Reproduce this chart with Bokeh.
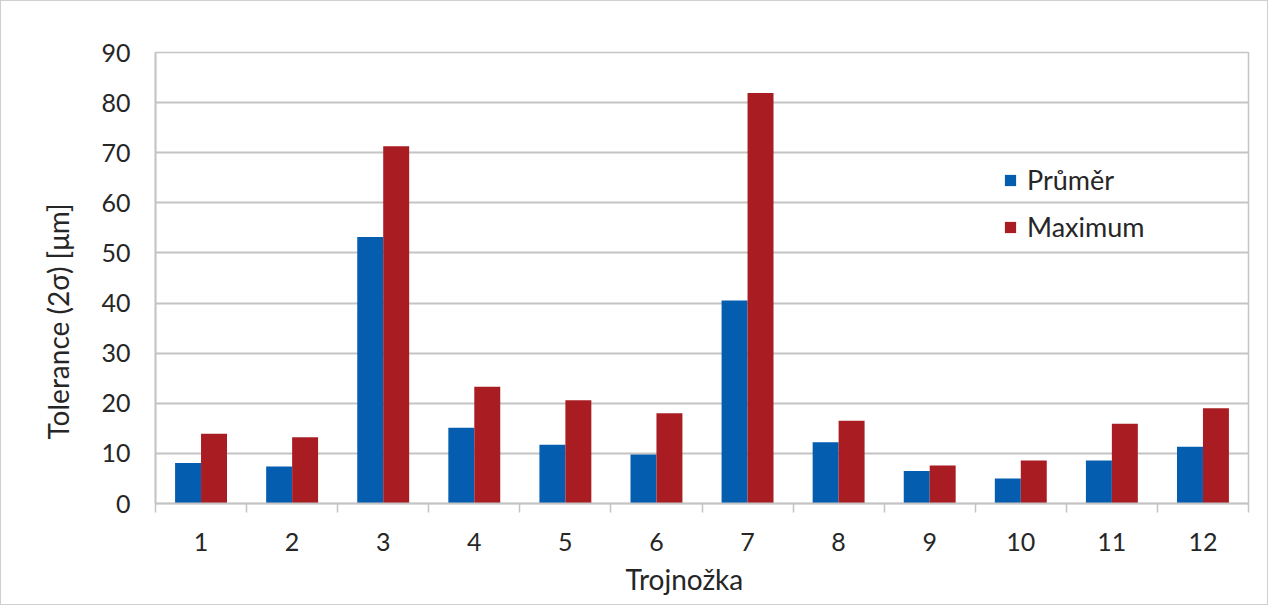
from bokeh.plotting import figure
from bokeh.models import ColumnDataSource, FixedTicker, Range1d, Legend, LegendItem, Title
from bokeh.embed import file_html
from bokeh.resources import INLINE

trojnozka = [1, 2, 3, 4, 5, 6, 7, 8, 9, 10, 11, 12]
tick_labels = ["1", "2", "3", "4", "5", "6", "7", "8", "9", "10", "11", "12"]
prumer = [8.1, 7.4, 53.2, 15.1, 11.7, 9.8, 40.5, 12.2, 6.5, 5.0, 8.6, 11.3]
maximum = [13.9, 13.2, 71.3, 23.3, 20.6, 18.0, 81.9, 16.5, 7.6, 8.6, 15.9, 19.0]
y_ticks = [0, 10, 20, 30, 40, 50, 60, 70, 80, 90]

BLUE = "#055db0"
RED = "#a81c22"
GRID = "#c4c4c4"
FONT = "Lato"
TXT = "#262626"

bar_w = 0.285
src = ColumnDataSource(dict(
    xb=[x - bar_w / 2 for x in trojnozka],
    xr=[x + bar_w / 2 for x in trojnozka],
    prumer=prumer,
    maximum=maximum,
))

p = figure(width=1268, height=605, output_backend="svg", toolbar_location=None,
           x_range=Range1d(0.5, 12.5), y_range=Range1d(0, 90),
           min_border_left=154, min_border_right=21, min_border_top=51, min_border_bottom=103,
           styles={"border": "1px solid #cfcfcf"})

rb = p.vbar(x="xb", top="prumer", width=bar_w, bottom=0, source=src, fill_color=BLUE, line_color=None)
rr = p.vbar(x="xr", top="maximum", width=bar_w, bottom=0, source=src, fill_color=RED, line_color=None)

p.outline_line_color = GRID
p.outline_line_width = 1.5
p.xgrid.grid_line_color = None
p.ygrid.grid_line_color = GRID
p.ygrid.grid_line_width = 1.8
p.ygrid.ticker = FixedTicker(ticks=y_ticks)

xa = p.xaxis[0]
xa.ticker = FixedTicker(ticks=trojnozka, minor_ticks=[x - 0.5 for x in trojnozka] + [12.5])
xa.major_label_overrides = {x: l for x, l in zip(trojnozka, tick_labels)}
xa.major_tick_line_color = None
xa.major_tick_out = 0
xa.major_tick_in = 0
xa.minor_tick_line_color = GRID
xa.minor_tick_line_width = 1.5
xa.minor_tick_out = 9
xa.minor_tick_in = 0
xa.axis_line_color = GRID
xa.axis_line_width = 1.8
xa.major_label_text_font = FONT
xa.major_label_text_font_size = "25px"
xa.major_label_text_color = TXT
xa.major_label_standoff = 20

ya = p.yaxis[0]
ya.ticker = FixedTicker(ticks=y_ticks)
ya.major_tick_line_color = None
ya.minor_tick_line_color = None
ya.major_tick_out = 0
ya.axis_line_color = GRID
ya.axis_line_width = 1.8
ya.major_label_text_font = FONT
ya.major_label_text_font_size = "25px"
ya.major_label_text_color = TXT
ya.major_label_standoff = 25

# axis titles, offset from the frame centre as in the original
ytitle = Title(text="Tolerance (2σ) [μm]", align="left", offset=64,
               text_font=FONT, text_font_size="28px", text_font_style="normal",
               text_color=TXT, standoff=48)
p.add_layout(ytitle, "left")
xtitle = Title(text="Trojnožka", align="left", offset=470,
               text_font=FONT, text_font_size="28px", text_font_style="normal",
               text_color=TXT, standoff=13)
p.add_layout(xtitle, "below")

legend = Legend(items=[LegendItem(label="Průměr", renderers=[rb]),
                       LegendItem(label="Maximum", renderers=[rr])],
                location=(848, 260), orientation="vertical")
legend.border_line_color = None
legend.background_fill_alpha = 0
legend.padding = 0
legend.margin = 0
legend.spacing = 14
legend.glyph_width = 14
legend.glyph_height = 14
legend.label_standoff = 10
legend.label_height = 22
legend.label_text_font = FONT
legend.label_text_font_size = "27px"
legend.label_text_color = TXT
p.add_layout(legend, "center")

open("out.html", "w").write(file_html(p, INLINE))
